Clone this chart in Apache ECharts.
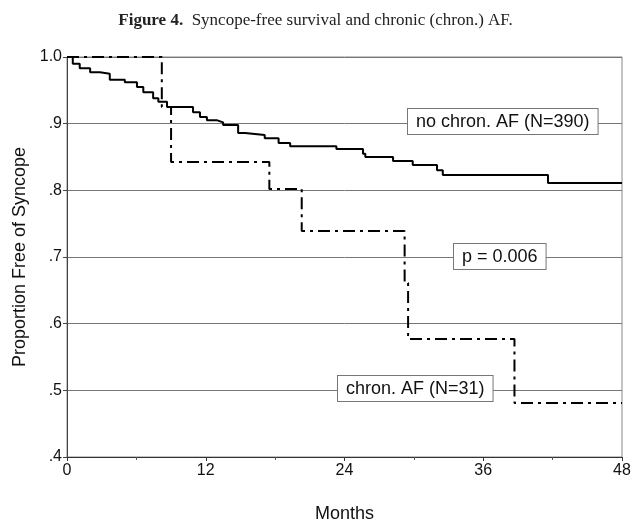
<!DOCTYPE html>
<html>
<head>
<meta charset="utf-8">
<script src="https://cdn.jsdelivr.net/npm/echarts@6/dist/echarts.min.js"></script>
<style>
  html, body { margin: 0; padding: 0; background: #fff; }
  #chart { width: 631px; height: 521px; }
</style>
</head>
<body>
<div id="chart"></div>
<script>
// months at which the curve steps down, and the proportion after the step
const noAfMonths = [0, 0.5, 1.1, 2.0, 2.85, 3.7, 5.0, 6.05, 6.6, 7.45, 7.9, 8.65, 10.9, 11.5, 12.1, 13.0, 13.5,
    14.8, 15.4, 17.1, 18.3, 19.3, 23.3, 25.6, 25.8, 28.2, 29.9, 32.0, 32.5, 41.6, 48]
const noAfSurv = [1.0, 0.99, 0.983, 0.977, 0.975, 0.966, 0.962, 0.955, 0.947, 0.938, 0.933, 0.925, 0.917, 0.91, 0.905, 0.902, 0.898,
    0.886, 0.883, 0.878, 0.871, 0.866, 0.862, 0.855, 0.85, 0.844, 0.838, 0.83, 0.823, 0.811, 0.811]

const afMonths = [0, 8.2, 9.0, 17.5, 20.3, 29.2, 29.5, 38.7, 48]
const afSurv = [1.0, 0.925, 0.8425, 0.802, 0.739, 0.661, 0.577, 0.481, 0.481]

const xTicks = [0, 12, 24, 36, 48]
const yTicks = ['.4', '.5', '.6', '.7', '.8', '.9', '1.0']

const pairs = (xs, ys) => xs.map((x, i) => [x, ys[i]])

const chart = echarts.init(document.getElementById('chart'))

// white boxes with a thin grey border, sitting on the grid lines
const box = (text, left, top) => ({
    type: 'text',
    left: left,
    top: top,
    z: 10,
    style: {
        text: text,
        fill: '#111',
        font: '18px "Liberation Sans", Arial, sans-serif',
        backgroundColor: '#fff',
        borderColor: '#777',
        borderWidth: 1,
        padding: [4, 8, 3, 8]
    }
})

chart.setOption({
    animation: false,
    backgroundColor: '#fff',
    title: {
        text: '{b|Figure 4.}  Syncope-free survival and chronic (chron.) AF.',
        left: 'center',
        top: 7,
        textStyle: {
            fontFamily: 'Liberation Serif, Times New Roman, serif',
            fontSize: 17,
            fontWeight: 'normal',
            color: '#222',
            rich: {
                b: {
                    fontFamily: 'Liberation Serif, Times New Roman, serif',
                    fontSize: 17,
                    fontWeight: 'bold',
                    color: '#222'
                }
            }
        }
    },
    grid: {
        left: 67,
        right: 9,
        top: 57,
        bottom: 64,
        containLabel: false,
        outerBoundsMode: 'none',
        show: true,
        borderColor: '#888',
        borderWidth: 1
    },
    xAxis: {
        type: 'value',
        min: 0,
        max: 48,
        interval: 12,
        name: 'Months',
        nameLocation: 'middle',
        nameGap: 48,
        nameTextStyle: { fontFamily: 'Liberation Sans, Arial', fontSize: 18, color: '#111' },
        axisLine: { lineStyle: { color: '#333', width: 1 } },
        axisTick: { show: true, length: 4, lineStyle: { color: '#333' } },
        minorTick: { show: true, splitNumber: 2, length: 3, lineStyle: { color: '#555' } },
        axisLabel: {
            fontFamily: 'Liberation Sans, Arial',
            fontSize: 16,
            color: '#111',
            margin: 6,
            formatter: v => xTicks.includes(v) ? String(v) : ''
        },
        splitLine: { show: false }
    },
    yAxis: {
        type: 'value',
        min: 0.4,
        max: 1.0,
        interval: 0.1,
        name: 'Proportion Free of Syncope',
        nameLocation: 'middle',
        nameGap: 36,
        nameTextStyle: { fontFamily: 'Liberation Sans, Arial', fontSize: 18, color: '#111' },
        axisLine: { show: true, lineStyle: { color: '#444', width: 1 } },
        axisTick: { show: true, length: 4, lineStyle: { color: '#444' } },
        axisLabel: {
            fontFamily: 'Liberation Sans, Arial',
            fontSize: 16,
            color: '#111',
            margin: 5,
            formatter: v => yTicks[Math.round(v * 10) - 4]
        },
        splitLine: { show: true, lineStyle: { color: '#777', width: 1 } }
    },
    series: [
        {
            name: 'no chron. AF',
            type: 'line',
            step: 'end',
            symbol: 'none',
            data: pairs(noAfMonths, noAfSurv),
            lineStyle: { color: '#000', width: 2 },
            z: 3
        },
        {
            name: 'chron. AF',
            type: 'line',
            step: 'end',
            symbol: 'none',
            data: pairs(afMonths, afSurv),
            lineStyle: { color: '#000', width: 2, type: [12, 5, 3, 5] },
            z: 4
        }
    ],
    graphic: [
        box('no chron. AF (N=390)', 407, 108),
        box('p = 0.006', 453, 243),
        box('chron. AF (N=31)', 337, 375)
    ]
})
</script>
</body>
</html>
